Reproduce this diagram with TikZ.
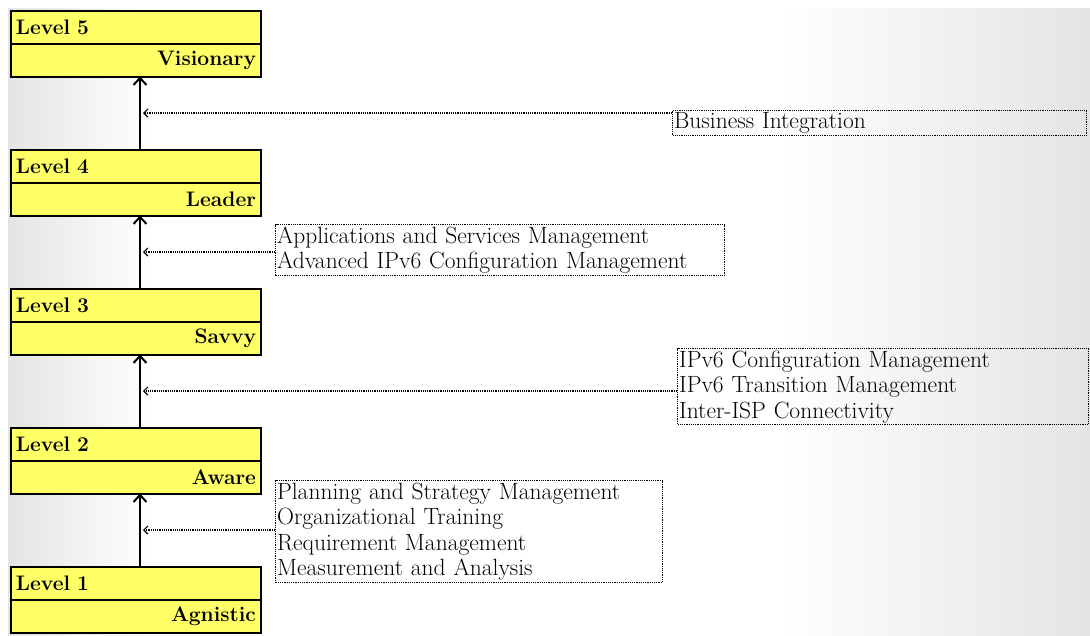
\documentclass[tikz,border=0pt]{standalone}
\usepackage{tikz}
\usetikzlibrary{positioning,arrows.meta}
\definecolor{lvlyellow}{RGB}{255,255,102}
\definecolor{itemtext}{RGB}{0,0,0}
\definecolor{slideedge}{RGB}{228,228,228}
\tikzstyle{levelhead} = [draw=black, fill=lvlyellow, line width=2pt,
    rectangle, outer sep=0pt, inner xsep=5pt, inner ysep=0pt,
    text width=240pt, minimum height=33pt, align=left,
    font=\fontsize{21}{22}\selectfont\bfseries]
\tikzstyle{levelname} = [levelhead, align=right]
\tikzstyle{itembox} = [draw=black, densely dotted, line width=1.2pt, rectangle,
    anchor=north west, inner xsep=1.5pt, inner ysep=2pt, align=left,
    text=itemtext, font=\fontsize{23.5}{25.5}\selectfont]
\tikzstyle{climb} = [-{Straight Barb[length=7pt, width=13pt]}, line width=2pt]
\tikzstyle{feed} = [-{Straight Barb[length=4pt, width=8pt, line width=1.2pt]},
    densely dotted, line width=1.2pt]

\begin{document}
\begin{tikzpicture}[x=1pt, y=-1pt]
\useasboundingbox (0,0) rectangle (1090,635);
% slide background
\fill[white] (8,8) rectangle (1090,635);
\shade[left color=slideedge, right color=white] (8,8) rectangle (150,635);
\shade[left color=white, right color=slideedge] (780,8) rectangle (1090,635);

% levels
\node[levelhead] (l5) at (136,27) {Level 5};
\node[levelname, below=0pt of l5] (l5n) {Visionary};
\node[levelhead] (l4) at (136,166) {Level 4};
\node[levelname, below=0pt of l4] (l4n) {Leader};
\node[levelhead] (l3) at (136,305) {Level 3};
\node[levelname, below=0pt of l3] (l3n) {Savvy};
\node[levelhead] (l2) at (136,444) {Level 2};
\node[levelname, below=0pt of l2] (l2n) {Aware};
\node[levelhead] (l1) at (136,583) {Level 1};
\node[levelname, below=0pt of l1] (l1n) {Agnistic};

% process areas
\node[itembox, text width=411pt] (bi) at (672,110) {Business Integration};
\node[itembox, text width=446pt] (asm) at (275,224) {Applications and Services Management\\
    Advanced IPv6 Configuration Management};
\node[itembox, text width=408pt] (icm) at (677,348) {IPv6 Configuration Management\\
    IPv6 Transition Management\\
    Inter-ISP Connectivity};
\node[itembox, text width=384pt] (psm) at (275,480) {Planning and Strategy Management\\
    Organizational Training\\
    Requirement Management\\
    Measurement and Analysis};

% climbing arrows
\draw[climb] ([xshift=4pt]l4.north) -- coordinate[midway] (m4) ([xshift=4pt]l5n.south);
\draw[climb] ([xshift=4pt]l3.north) -- coordinate[midway] (m3) ([xshift=4pt]l4n.south);
\draw[climb] ([xshift=4pt]l2.north) -- coordinate[midway] (m2) ([xshift=4pt]l3n.south);
\draw[climb] ([xshift=4pt]l1.north) -- coordinate[midway] (m1) ([xshift=4pt]l2n.south);

\draw[feed] (bi.west |- m4) -- ([xshift=3pt]m4);
\draw[feed] (asm.west |- m3) -- ([xshift=3pt]m3);
\draw[feed] (icm.west |- m2) -- ([xshift=3pt]m2);
\draw[feed] (psm.west |- m1) -- ([xshift=3pt]m1);
\end{tikzpicture}
\end{document}
